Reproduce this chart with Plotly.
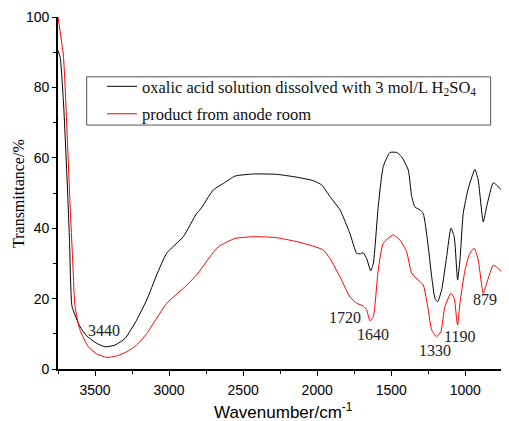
import plotly.graph_objects as go

# Wavenumbers (cm-1) and transmittance (%)
wn_black = [3750, 3735, 3712, 3685, 3672, 3665, 3655, 3601, 3556, 3489, 3432, 3365, 3297,
            3219, 3151, 3084, 3016, 2904, 2814, 2791, 2701, 2634, 2555, 2431, 2274, 2139,
            2026, 1970, 1914, 1846, 1779, 1734, 1711, 1689, 1666, 1639, 1621, 1588, 1554,
            1509, 1463, 1430, 1385, 1362, 1340, 1306, 1284, 1250, 1227, 1205, 1187, 1160,
            1126, 1097, 1075, 1058, 1052, 1036, 1014, 980, 935, 913, 879, 856, 811, 766, 705]
t_black = [90.5, 88.5, 75, 50, 36, 25, 17.7, 12, 9.4, 7.3, 6.3, 6.8, 8.7,
           13.9, 19.6, 26.7, 32.9, 37.6, 44.2, 45.2, 50.9, 52.7, 54.8, 55.4, 55.3, 54.5,
           53.5, 52.3, 49, 45.2, 38.5, 32.9, 32.7, 33, 31.4, 27.9, 30, 46.1, 57.5,
           61.5, 61.5, 60.3, 56.5, 49, 46, 45.2, 44.2, 34.7, 26.2, 20.1, 19.1, 22.4,
           31.9, 40, 37.6, 28.1, 25.3, 31, 44.2, 51.3, 56.7, 53.7, 41.8, 46.1, 52.9, 51.3, 48]

wn_red = [3750, 3714, 3702, 3669, 3651, 3635, 3601, 3545, 3489, 3421, 3354, 3286, 3219,
          3151, 3084, 3016, 2904, 2814, 2724, 2668, 2555, 2409, 2274, 2139, 2026, 1959,
          1914, 1846, 1779, 1734, 1689, 1666, 1644, 1621, 1588, 1554, 1487, 1441, 1396,
          1362, 1306, 1284, 1250, 1227, 1194, 1165, 1138, 1097, 1075, 1058, 1052, 1036,
          1002, 969, 940, 913, 879, 856, 811, 766, 705]
t_red = [100, 89.2, 80.2, 47, 31, 17.7, 11, 6.3, 4.3, 3.3, 3.7, 4.9, 6.8,
         10.1, 14.4, 18.7, 22.9, 26.7, 31.9, 34.7, 37.1, 37.6, 37.3, 36.2, 34.9, 33.8,
         31.4, 26.2, 20.5, 18.7, 17.9, 16.8, 13.7, 14.9, 28.1, 35.7, 38.1, 36.6, 33.3,
         27.2, 24.8, 23.9, 16.8, 11.1, 9.2, 10.6, 17.7, 21.5, 20.1, 13.9, 12.5, 18.7,
         28.1, 32.9, 34.3, 31, 21.5, 24.3, 29.5, 28.1, 24.8]

# Peak labels
peak_text = ["3440", "1720", "1640", "1330", "1190", "879"]
peak_x = [3439, 1810, 1623, 1203, 1040, 865]
peak_y = [10.8, 14.6, 9.7, 5.2, 9.2, 19.8]

x_range = [3750, 705]
serif = "Liberation Serif"
sans = "Liberation Sans"

fig = go.Figure()
fig.add_trace(go.Scatter(
    x=wn_black, y=t_black, mode="lines",
    line=dict(color="black", width=1, shape="spline", smoothing=0.5),
    name="oxalic acid solution dissolved with 3 mol/L H<sub>2</sub>SO<sub>4</sub>",
    legendgroup="a"))
fig.add_trace(go.Scatter(
    x=wn_red, y=t_red, mode="lines",
    line=dict(color="red", width=1, shape="spline", smoothing=0.5),
    name="product from anode room", legendgroup="b"))

for t, x, y in zip(peak_text, peak_x, peak_y):
    fig.add_annotation(x=x, y=y, text=t, showarrow=False,
                       font=dict(family=serif, size=16, color="#222"))

# axis titles
fig.add_annotation(xref="paper", yref="paper", x=-0.0887, y=0.5, textangle=-90,
                   text="Transmittance/%", showarrow=False,
                   xanchor="center", yanchor="middle",
                   font=dict(family=serif, size=16, color="black"))
fig.add_annotation(xref="paper", yref="paper", x=0.5, y=-0.118,
                   text="Wavenumber/cm<sup>-1</sup>", showarrow=False,
                   xanchor="center", yanchor="middle",
                   font=dict(family=sans, size=17, color="black"))

# legend frame
fig.add_shape(type="rect", xref="paper", yref="paper",
              x0=0.0636, x1=0.9594, y0=0.693, y1=0.830,
              line=dict(color="#555", width=1), fillcolor="rgba(0,0,0,0)")

# The page body has an 8px margin; the figure is sized so the plot lands where the reference's does.
fig.update_layout(
    template="none",
    width=501, height=413,
    margin=dict(l=50, r=0, t=9, b=52),
    paper_bgcolor="white", plot_bgcolor="white",
    showlegend=True,
    legend=dict(x=0.0976, y=0.852, xanchor="left", yanchor="top",
                borderwidth=0, bgcolor="rgba(0,0,0,0)",
                font=dict(family=serif, size=16.5, color="#111"),
                traceorder="grouped", tracegroupgap=3),
    xaxis=dict(range=x_range, showgrid=False, zeroline=False, automargin=False,
               showline=True, linecolor="black", linewidth=1.6,
               ticks="outside", ticklen=5, tickwidth=1, tickcolor="black",
               dtick=500, tick0=0, ticklabelstandoff=2,
               minor=dict(dtick=250, tick0=0, ticks="outside", ticklen=3, tickcolor="black"),
               tickfont=dict(family=sans, size=14, color="black")),
    xaxis2=dict(range=x_range, overlaying="x", side="top", anchor="y", automargin=False,
                showgrid=False, zeroline=False, showticklabels=False,
                showline=True, linecolor="black", linewidth=1.4,
                ticks="inside", ticklen=5, tickcolor="black", dtick=500, tick0=0,
                minor=dict(dtick=250, tick0=0, ticks="inside", ticklen=5, tickcolor="black")),
    yaxis=dict(range=[0, 100], showgrid=False, zeroline=False, automargin=False,
               showline=True, linecolor="black", linewidth=1.6,
               ticks="outside", ticklen=4, tickcolor="black", dtick=20,
               minor=dict(dtick=10, ticks="outside", ticklen=3, tickcolor="black"),
               tickfont=dict(family=sans, size=14, color="black")),
    yaxis2=dict(range=[0, 100], overlaying="y", side="right", anchor="x", automargin=False,
                showgrid=False, zeroline=False, showticklabels=False, showline=False,
                ticks="inside", ticklen=4, tickcolor="black", dtick=20),
)

fig.write_html("out.html")
